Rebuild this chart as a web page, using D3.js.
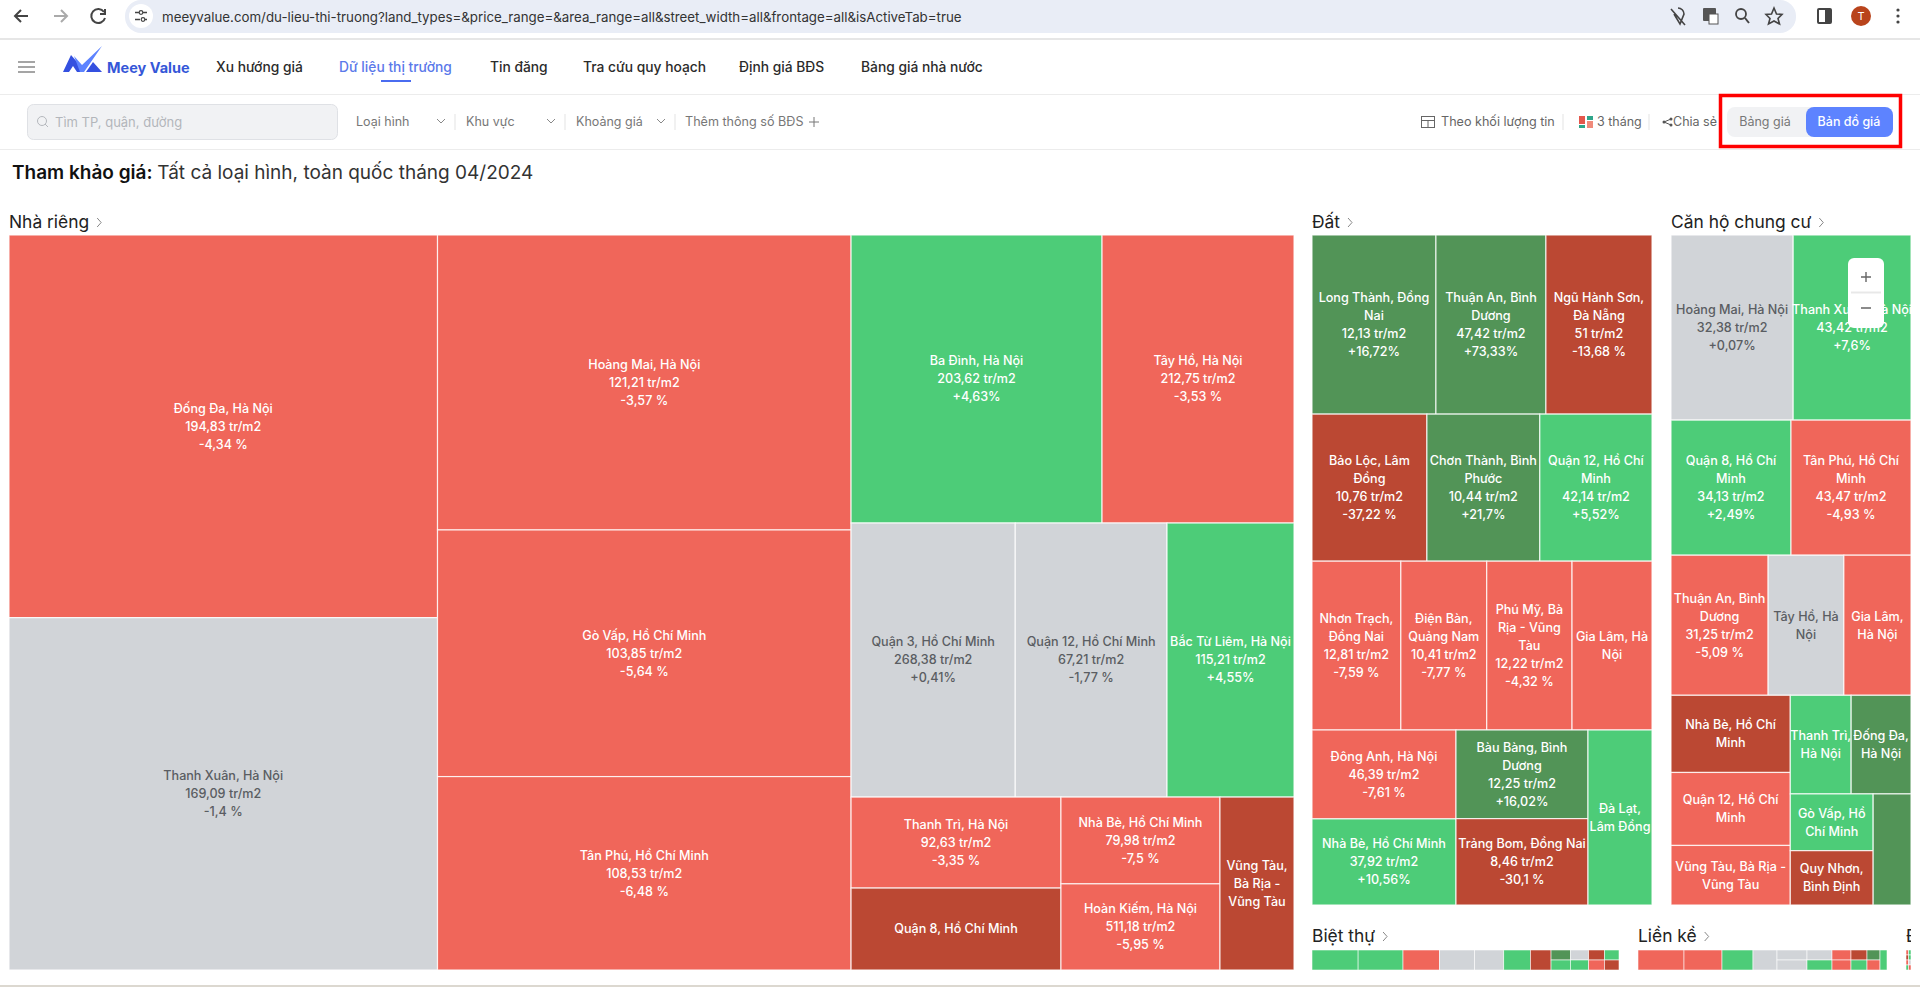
<!DOCTYPE html>
<html>
<head>
<meta charset="utf-8">
<script src="https://cdn.jsdelivr.net/npm/d3@7"></script>
<style>
  html, body { margin: 0; padding: 0; background: #fff; overflow: hidden; }
  svg { display: block; font-family: Inter, "Noto Sans", sans-serif; }
</style>
</head>
<body>
<svg width="1920" height="987"></svg>
<script>
'use strict';

// Listing volumes are not printed in the picture, they are read from the cell areas.
// Cells that show no price have a null price and a change guessed from their colour.

var nhaRiengNames = ['Đống Đa, Hà Nội', 'Thanh Xuân, Hà Nội', 'Hoàng Mai, Hà Nội', 'Gò Vấp, Hồ Chí Minh', 'Tân Phú, Hồ Chí Minh', 'Ba Đình, Hà Nội', 'Tây Hồ, Hà Nội', 'Quận 3, Hồ Chí Minh', 'Quận 12, Hồ Chí Minh', 'Bắc Từ Liêm, Hà Nội', 'Thanh Trì, Hà Nội', 'Quận 8, Hồ Chí Minh', 'Nhà Bè, Hồ Chí Minh', 'Hoàn Kiếm, Hà Nội', 'Vũng Tàu, Bà Rịa - Vũng Tàu'];
var nhaRiengPrices = [194.83, 169.09, 121.21, 103.85, 108.53, 203.62, 212.75, 268.38, 67.21, 115.21, 92.63, null, 79.98, 511.18, null];
var nhaRiengChanges = [-4.34, -1.4, -3.57, -5.64, -6.48, 4.63, -3.53, 0.41, -1.77, 4.55, -3.35, -25, -7.5, -5.95, -25];
var nhaRiengVolumes = [164, 151, 122, 102, 80, 72.3, 55.3, 45, 41.6, 34.8, 19.1, 17.2, 13.8, 13.7, 12.8];
var nhaRiengNest = [[0, 1], [2, 3, 4], [[5, 6], [7, 8, 9], [[10, 11], [12, 13], 14]]];

var datNames = ['Long Thành, Đồng Nai', 'Thuận An, Bình Dương', 'Ngũ Hành Sơn, Đà Nẵng', 'Bảo Lộc, Lâm Đồng', 'Chơn Thành, Bình Phước', 'Quận 12, Hồ Chí Minh', 'Nhơn Trạch, Đồng Nai', 'Điện Bàn, Quảng Nam', 'Phú Mỹ, Bà Rịa - Vũng Tàu', 'Gia Lâm, Hà Nội', 'Đông Anh, Hà Nội', 'Nhà Bè, Hồ Chí Minh', 'Bàu Bàng, Bình Dương', 'Trảng Bom, Đồng Nai', 'Đà Lạt, Lâm Đồng'];
var datPrices = [12.13, 47.42, 51, 10.76, 10.44, 42.14, 12.81, 10.41, 12.22, null, 46.39, 37.92, 12.25, 8.46, null];
var datChanges = [16.72, 73.33, -13.68, -37.22, 21.7, 5.52, -7.59, -7.77, -4.32, -5, -7.61, 10.56, 16.02, -30.1, 5];
var datVolumes = [22.2, 19.7, 19.0, 16.9, 16.6, 16.5, 15.0, 14.5, 14.4, 13.5, 12.8, 12.4, 11.7, 11.4, 11.2];
var datNest = [[0, 1, 2], [3, 4, 5], [6, 7, 8, 9], [[10, 11], [12, 13], 14]];

// no-break spaces keep two names on the lines they have in the picture
var canHoNames = ['Hoàng Mai, Hà Nội', 'Thanh\u00a0Xuân,\u00a0Hà\u00a0Nội', 'Quận 8, Hồ Chí Minh', 'Tân Phú, Hồ Chí Minh', 'Thuận An, Bình Dương', 'Tây Hồ, Hà Nội', 'Gia Lâm, Hà Nội', 'Nhà Bè, Hồ Chí Minh', 'Quận 12, Hồ Chí Minh', 'Vũng Tàu, Bà Rịa - Vũng Tàu', 'Thanh\u00a0Trì, Hà Nội', 'Đống Đa, Hà Nội', 'Gò Vấp, Hồ Chí Minh', 'Quy Nhơn, Bình Định', ''];
var canHoPrices = [32.38, 43.42, 34.13, 43.47, 31.25, null, null, null, null, null, null, null, null, null, null];
var canHoChanges = [0.07, 7.6, 2.49, -4.93, -5.09, 0, -5, -25, -5, -5, 5, 20, 5, -25, 20];
var canHoVolumes = [22.6, 21.8, 16.2, 16.2, 13.6, 10.6, 9.4, 9.2, 8.7, 7.1, 6.0, 5.9, 4.7, 4.5, 4.2];
var canHoNest = [[0, 1], [2, 3], [4, 5, 6], [[7, 8, 9], [[10, 11], [[12, 13], 14]]]];

var bietThuChanges = [5, 5, -5, 0, 0, 5, -25, 20, 5, 0, 5, -25, -5, 5, -25];
var bietThuVolumes = [76, 74, 60, 58, 48, 44, 34, 16, 16, 15, 15, 13, 13, 12, 12];
var bietThuNest = [0, 1, 2, 3, 4, 5, 6, [7, 8], [9, 10], [11, 12], [13, 14]];

var lienKeChanges = [-5, -5, 5, 0, 0, 0, 0, 5, -5, -5, -25, 5, 20, -5, 5];
var lienKeVolumes = [92, 76, 62, 48, 30, 30, 25, 25, 19, 19, 16, 16, 13, 13, 14];
var lienKeNest = [0, 1, 2, 3, [4, 5], [6, 7], [8, 9], [10, 11], [12, 13], 14];

var datNenChanges = [-5, 5, -25, 5, -5, 0, 5, -5];
var datNenVolumes = [3, 3, 3, 3, 3, 3, 3, 3];
var datNenNest = [[0, 1], [2, 3], [4, 5], [6, 7]];

var navItems = ['Xu hướng giá', 'Dữ liệu thị trường', 'Tin đăng', 'Tra cứu quy hoạch', 'Định giá BĐS', 'Bảng giá nhà nước'];
var navX = [216, 339, 490, 583, 739, 861];
var filterItems = ['Loại hình', 'Khu vực', 'Khoảng giá'];
var filterX = [356, 466, 576];

var color = d3.scaleThreshold()
  .domain([-10, -2, 2, 15])
  .range(['#bb4833', '#f0665a', '#d1d4d8', '#4dcc78', '#529457']);

var svg = d3.select('svg');

function label(g, x, y, text, size, fill, weight, anchor) {
  return g.append('text')
    .attr('x', x).attr('y', y)
    .attr('dy', '0.35em')
    .attr('font-size', size)
    .attr('fill', fill)
    .attr('font-weight', weight || 400)
    .attr('text-anchor', anchor || 'start')
    .text(text);
}

function chevron(g, x, y, size, stroke) {
  g.append('path')
    .attr('d', 'M' + (x - size) + ',' + (y - size / 2) + 'L' + x + ',' + (y + size / 2) + 'L' + (x + size) + ',' + (y - size / 2))
    .attr('fill', 'none').attr('stroke', stroke).attr('stroke-width', 1);
}

function toTree(n) {
  return Array.isArray(n) ? { children: n.map(toTree) } : { index: n };
}

function wrapName(name, maxWidth, probe) {
  var lines = [];
  var line = '';
  name.split(' ').forEach(function (word) {
    var next = line ? line + ' ' + word : word;
    probe.text(next);
    if (line && probe.node().getComputedTextLength() > maxWidth) {
      lines.push(line);
      line = word;
    } else {
      line = next;
    }
  });
  if (line) lines.push(line);
  return lines;
}

function formatNumber(v) {
  return String(v).replace('.', ',');
}

function formatChange(v) {
  return v < 0 ? formatNumber(v) + ' %' : '+' + formatNumber(v) + '%';
}

// rows first when startSlice is true, then alternate on every level of the nest
function drawTreemap(x, y, w, h, startSlice, nest, volumes, changes, names, prices) {
  var offset = startSlice ? 1 : 0;
  var tile = function (parent, x0, y0, x1, y1) {
    var fn = (parent.depth + offset) & 1 ? d3.treemapSlice : d3.treemapDice;
    fn(parent, x0, y0, x1, y1);
  };
  var root = d3.hierarchy(toTree(nest)).sum(function (d) {
    return d.index === undefined ? 0 : volumes[d.index];
  });
  d3.treemap().size([w, h]).tile(tile)(root);

  var g = svg.append('g').attr('transform', 'translate(' + x + ',' + y + ')');
  var cells = g.selectAll('g').data(root.leaves()).enter().append('g');

  cells.append('rect')
    .attr('x', function (d) { return d.x0; })
    .attr('y', function (d) { return d.y0; })
    .attr('width', function (d) { return d.x1 - d.x0; })
    .attr('height', function (d) { return d.y1 - d.y0; })
    .attr('fill', function (d) { return color(changes[d.data.index]); })
    .attr('stroke', '#fff')
    .attr('stroke-opacity', 0.8)
    .attr('stroke-width', h < 50 ? 0.7 : 1.2);

  if (!names) return;

  var probe = g.append('text').attr('font-size', 12.6).attr('font-weight', 500).attr('visibility', 'hidden');
  cells.each(function (d) {
    var i = d.data.index;
    if (!names[i]) return;
    var lines = wrapName(names[i], d.x1 - d.x0, probe);
    if (prices[i] !== null) {
      lines.push(formatNumber(prices[i]) + ' tr/m2');
      lines.push(formatChange(changes[i]));
    }
    var cx = (d.x0 + d.x1) / 2;
    var cy = (d.y0 + d.y1) / 2;
    var fill = color(changes[i]) === '#d1d4d8' ? '#5a5d62' : '#fff';
    var cell = d3.select(this);
    lines.forEach(function (t, k) {
      label(cell, cx, cy + (k - (lines.length - 1) / 2) * 18, t, 12.6, fill, 500, 'middle');
    });
  });
  probe.remove();
}

// browser bar
var chrome = svg.append('g');
chrome.append('rect').attr('x', 125).attr('y', 0).attr('width', 1671).attr('height', 33).attr('rx', 16).attr('fill', '#e9edf6');
chrome.append('line').attr('x1', 0).attr('x2', 1920).attr('y1', 39).attr('y2', 39).attr('stroke', '#dedede').attr('stroke-width', 1.5);
chrome.append('path').attr('d', 'M28,16H16M21,10L15,16L21,22').attr('fill', 'none').attr('stroke', '#444').attr('stroke-width', 2);
chrome.append('path').attr('d', 'M54,16H66M61,10L67,16L61,22').attr('fill', 'none').attr('stroke', '#aaa').attr('stroke-width', 2);
chrome.append('path').attr('d', 'M104,12A7,7 0 1 0 105,18M105,9V14H100').attr('fill', 'none').attr('stroke', '#444').attr('stroke-width', 2);
chrome.append('circle').attr('cx', 141).attr('cy', 16).attr('r', 12).attr('fill', '#fff');
chrome.append('path').attr('d', 'M135,12.5H139M143,12.5H147M135,19.5H140M145,19.5H147').attr('stroke', '#444').attr('stroke-width', 1.5);
chrome.append('circle').attr('cx', 141).attr('cy', 12.5).attr('r', 1.8).attr('fill', 'none').attr('stroke', '#444').attr('stroke-width', 1.2);
chrome.append('circle').attr('cx', 143).attr('cy', 19.5).attr('r', 1.8).attr('fill', 'none').attr('stroke', '#444').attr('stroke-width', 1.2);
label(chrome, 162, 17, 'meeyvalue.com/du-lieu-thi-truong?land_types=&price_range=&area_range=all&street_width=all&frontage=all&isActiveTab=true', 13.3, '#333');
chrome.append('path').attr('d', 'M1671,9L1685,25M1678,8A6,6 0 0 1 1684,14L1680,24L1674,14').attr('fill', 'none').attr('stroke', '#444').attr('stroke-width', 1.6);
chrome.append('rect').attr('x', 1703).attr('y', 8).attr('width', 13).attr('height', 13).attr('rx', 1).attr('fill', '#555');
chrome.append('rect').attr('x', 1709).attr('y', 14).attr('width', 9).attr('height', 10).attr('fill', '#fff').attr('stroke', '#555');
chrome.append('circle').attr('cx', 1741).attr('cy', 14).attr('r', 5).attr('fill', 'none').attr('stroke', '#444').attr('stroke-width', 1.8);
chrome.append('line').attr('x1', 1745).attr('y1', 18).attr('x2', 1749).attr('y2', 23).attr('stroke', '#444').attr('stroke-width', 2);
chrome.append('path').attr('d', 'M1774,8L1776.5,14L1782,14.5L1778,18.5L1779.5,24L1774,21L1768.5,24L1770,18.5L1766,14.5L1771.5,14Z').attr('fill', 'none').attr('stroke', '#444').attr('stroke-width', 1.6);
chrome.append('rect').attr('x', 1818).attr('y', 9).attr('width', 13).attr('height', 14).attr('rx', 1).attr('fill', '#fff').attr('stroke', '#444').attr('stroke-width', 2);
chrome.append('rect').attr('x', 1825).attr('y', 9).attr('width', 6).attr('height', 14).attr('fill', '#444');
chrome.append('circle').attr('cx', 1861).attr('cy', 16).attr('r', 10).attr('fill', '#b9441c');
label(chrome, 1861, 16, 'T', 11, '#fff', 400, 'middle');
[10, 16, 22].forEach(function (y) {
  chrome.append('circle').attr('cx', 1898).attr('cy', y).attr('r', 1.6).attr('fill', '#444');
});

// site navigation
var nav = svg.append('g');
nav.append('line').attr('x1', 0).attr('x2', 1920).attr('y1', 94.5).attr('y2', 94.5).attr('stroke', '#ececec');
[62, 67, 72].forEach(function (y) {
  nav.append('line').attr('x1', 18).attr('x2', 35).attr('y1', y).attr('y2', y).attr('stroke', '#a5a5a5').attr('stroke-width', 2);
});
nav.append('path').attr('d', 'M63,72L71,55L78,63L84,72L77,72L73,66L69,72Z').attr('fill', '#3450e0');
nav.append('path').attr('d', 'M86,72L93,62L102,72Z').attr('fill', '#3450e0');
nav.append('path').attr('d', 'M74,56L82,65L102,46L84,72L80,72Z').attr('fill', '#5d83ff');
label(nav, 107, 68, 'Meey Value', 14.5, '#3557d8', 700);
navItems.forEach(function (t, i) {
  label(nav, navX[i], 67, t, 13.8, i === 1 ? '#5b79ea' : '#2b2b2b', 500);
});
nav.append('rect').attr('x', 381).attr('y', 80).attr('width', 30).attr('height', 2).attr('fill', '#4a6cf0');

// filters
var filters = svg.append('g');
filters.append('line').attr('x1', 0).attr('x2', 1920).attr('y1', 149.5).attr('y2', 149.5).attr('stroke', '#ececec');
filters.append('rect').attr('x', 27.5).attr('y', 104.5).attr('width', 310).attr('height', 35).attr('rx', 6).attr('fill', '#f1f2f4').attr('stroke', '#dfe1e5');
filters.append('circle').attr('cx', 42).attr('cy', 121).attr('r', 4.5).attr('fill', 'none').attr('stroke', '#b5b8bd');
filters.append('line').attr('x1', 45).attr('y1', 124).attr('x2', 48).attr('y2', 127).attr('stroke', '#b5b8bd');
label(filters, 55, 122, 'Tìm TP, quận, đường', 13, '#b3b6bb');
filterItems.forEach(function (t, i) {
  label(filters, filterX[i], 122, t, 12.5, '#777');
  chevron(filters, filterX[i] + 85, 121, 4, '#888');
  filters.append('line').attr('x1', filterX[i] + 99).attr('x2', filterX[i] + 99).attr('y1', 114).attr('y2', 130).attr('stroke', '#e3e3e3');
});
label(filters, 685, 122, 'Thêm thông số BĐS', 12.6, '#777');
filters.append('path').attr('d', 'M809,122H819M814,117V127').attr('stroke', '#777');

filters.append('rect').attr('x', 1421.5).attr('y', 116.5).attr('width', 13).attr('height', 11).attr('fill', 'none').attr('stroke', '#666');
filters.append('path').attr('d', 'M1421,120.5H1435M1428,120.5V128').attr('stroke', '#666');
label(filters, 1441, 122, 'Theo khối lượng tin', 12.6, '#666');
filters.append('line').attr('x1', 1563).attr('x2', 1563).attr('y1', 114).attr('y2', 130).attr('stroke', '#e3e3e3');
filters.append('rect').attr('x', 1579).attr('y', 116).attr('width', 6).attr('height', 8).attr('fill', '#e4574c');
filters.append('rect').attr('x', 1587).attr('y', 116).attr('width', 6).attr('height', 4).attr('fill', '#2fa58a');
filters.append('rect').attr('x', 1579).attr('y', 125).attr('width', 6).attr('height', 3).attr('fill', '#2fa58a');
filters.append('rect').attr('x', 1587).attr('y', 121).attr('width', 6).attr('height', 7).attr('fill', '#f08a7a');
label(filters, 1597, 122, '3 tháng', 12.5, '#666');
filters.append('line').attr('x1', 1649).attr('x2', 1649).attr('y1', 114).attr('y2', 130).attr('stroke', '#e3e3e3');
filters.append('path').attr('d', 'M1671,119L1664,122L1671,125').attr('fill', 'none').attr('stroke', '#555');
[[1664, 122], [1671, 119], [1671, 125]].forEach(function (p) {
  filters.append('circle').attr('cx', p[0]).attr('cy', p[1]).attr('r', 1.5).attr('fill', '#555');
});
label(filters, 1673, 122, 'Chia sẻ', 12.5, '#666');
filters.append('rect').attr('x', 1727).attr('y', 107).attr('width', 166).attr('height', 30).attr('rx', 8).attr('fill', '#f1f2f4');
filters.append('rect').attr('x', 1806).attr('y', 107).attr('width', 87).attr('height', 30).attr('rx', 8).attr('fill', '#5d83ff');
label(filters, 1765, 122, 'Bảng giá', 12.5, '#777', 400, 'middle');
label(filters, 1849, 122, 'Bản đồ giá', 12.5, '#fff', 500, 'middle');
filters.append('rect').attr('x', 1720.5).attr('y', 95.5).attr('width', 180).attr('height', 51).attr('fill', 'none').attr('stroke', '#f00').attr('stroke-width', 3.5);

// title
var title = label(svg, 12, 172, 'Tham khảo giá: ', 19, '#111', 600);
title.append('tspan').attr('font-weight', 400).attr('fill', '#333').text('Tất cả loại hình, toàn quốc tháng 04/2024');

svg.append('clipPath').attr('id', 'page').append('rect').attr('width', 1911).attr('height', 987);
var heads = svg.append('g').attr('clip-path', 'url(#page)');
function sectionHead(x, y, t) {
  var h = label(heads, x, y, t, 17.4, '#222', 400);
  var right = x + h.node().getComputedTextLength() + 8;
  heads.append('path').attr('d', 'M' + right + ',' + (y - 4) + 'l4,4.5l-4,4.5').attr('fill', 'none').attr('stroke', '#888');
}

sectionHead(9, 222, 'Nhà riêng');
sectionHead(1312, 222, 'Đất');
sectionHead(1671, 222, 'Căn hộ chung cư');
sectionHead(1312, 936, 'Biệt thự');
sectionHead(1638, 936, 'Liền kề');
sectionHead(1906, 936, 'Đất nền');

drawTreemap(9, 235, 1285, 735, false, nhaRiengNest, nhaRiengVolumes, nhaRiengChanges, nhaRiengNames, nhaRiengPrices);
drawTreemap(1312, 235, 340, 670, true, datNest, datVolumes, datChanges, datNames, datPrices);
drawTreemap(1671, 235, 240, 670, true, canHoNest, canHoVolumes, canHoChanges, canHoNames, canHoPrices);
drawTreemap(1312, 950, 307, 20, false, bietThuNest, bietThuVolumes, bietThuChanges);
drawTreemap(1638, 950, 249, 20, false, lienKeNest, lienKeVolumes, lienKeChanges);
drawTreemap(1906, 950, 5, 20, true, datNenNest, datNenVolumes, datNenChanges);

// map zoom buttons sit over the third treemap
var zoomBox = svg.append('g');
zoomBox.append('rect').attr('x', 1848).attr('y', 258).attr('width', 36).attr('height', 70).attr('rx', 6).attr('fill', '#fff');
zoomBox.append('line').attr('x1', 1851).attr('x2', 1881).attr('y1', 292.5).attr('y2', 292.5).attr('stroke', '#e8e8e8').attr('stroke-width', 2);
zoomBox.append('path').attr('d', 'M1861,277H1871M1866,272V282M1861,308H1871').attr('stroke', '#666').attr('stroke-width', 1.4);

// strip of the desktop under the window
svg.append('rect').attr('x', 0).attr('y', 985).attr('width', 1920).attr('height', 2).attr('fill', '#dcd8d0');
</script>
</body>
</html>
